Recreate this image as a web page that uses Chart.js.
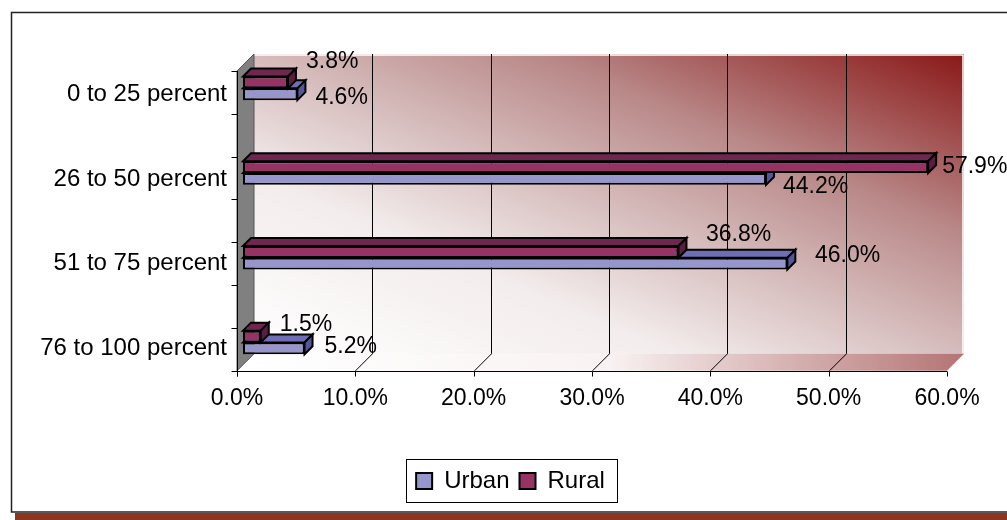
<!DOCTYPE html>
<html><head><meta charset="utf-8">
<script src="https://cdn.jsdelivr.net/npm/chart.js@4.4.1/dist/chart.umd.min.js"></script>
<style>html,body{margin:0;padding:0;background:#fff;}canvas{display:block;}</style>
</head><body>
<canvas id="c" width="1007" height="520"></canvas>
<script>
// ---- data ----
const categories = ['0 to 25 percent', '26 to 50 percent', '51 to 75 percent', '76 to 100 percent'];
const urbanValues = [4.6, 44.2, 46.0, 5.2];
const ruralValues = [3.8, 57.9, 36.8, 1.5];
const xTickLabels = ['0.0%', '10.0%', '20.0%', '30.0%', '40.0%', '50.0%', '60.0%'];
const axisMin = 0, axisMax = 60, axisStep = 10;

// ---- style ----
const FONT = "Arial, 'Liberation Sans', sans-serif";
const DEPTH = 17;      // depth of the 3D box
const BAR_Z = 6;       // bar front-face depth offset
const BAR_D = 8;       // bar depth
const LEGEND_SHIFT = 31;
const faceColors = {
  Urban: { front: '#9696cd', top: '#6e6eb4', side: '#55559a' },
  Rural: { front: '#963264', top: '#6e2850', side: '#581e40' }
};
const labelNudge = {
  Rural: [[18, -20.5], [14, 0], [27.5, -17.4], [19, -12]],
  Urban: [[18, 3], [17, 8], [27.7, -8], [20, -1.5]]
};

const box3d = {
  id: 'box3d',
  afterLayout(chart) {
    const lg = chart.legend;
    if (lg) { lg.left += LEGEND_SHIFT; lg.right += LEGEND_SHIFT; }
  },
  beforeDraw(chart) {
    const ctx = chart.ctx, ca = chart.chartArea, xs = chart.scales.x;
    ctx.save();
    ctx.fillStyle = '#fff';
    ctx.fillRect(0, 0, chart.width, chart.height);
    // outer frame + shadow band
    ctx.fillStyle = '#8e3520';
    ctx.fillRect(15, 513, chart.width - 15, 7);
    ctx.strokeStyle = '#222';
    ctx.lineWidth = 1.5;
    ctx.strokeRect(11.5, 12.5, chart.width + 20, 499.5);

    const x0 = xs.getPixelForValue(axisMin), x1 = xs.getPixelForValue(axisMax);
    const fT = ca.top + 19, fB = ca.bottom - 20;
    const D = DEPTH;
    const bL = x0 + D, bR = x1 + D, bT = fT - D, bB = fB - D;

    // back wall gradient (diagonal, from top-right dark red to bottom-left white)
    const W = bR - bL, H = bB - bT;
    const cx = (bL + bR) / 2, cy = (bT + bB) / 2;
    const k = W * H / (W * W + H * H);
    const g = ctx.createLinearGradient(cx - k * H, cy + k * W, cx + k * H, cy - k * W);
    g.addColorStop(0, '#ffffff');
    g.addColorStop(0.3, '#f3ecec');
    g.addColorStop(0.5, '#d6bcbc');
    g.addColorStop(0.7, '#b98888');
    g.addColorStop(0.86, '#a04c4c');
    g.addColorStop(1, '#8a1818');
    ctx.fillStyle = g;
    ctx.fillRect(bL, bT, W, H);
    ctx.strokeStyle = '#ffffff';
    ctx.lineWidth = 1.5;
    ctx.beginPath();
    ctx.moveTo(bL, bT + 1); ctx.lineTo(bR - 1, bT + 1); ctx.lineTo(bR - 1, bB);
    ctx.stroke();

    // floor
    const fg = ctx.createLinearGradient(bL, 0, bR, 0);
    fg.addColorStop(0, '#ffffff');
    fg.addColorStop(0.5, '#f9f2f2');
    fg.addColorStop(1, '#b47474');
    ctx.fillStyle = fg;
    ctx.beginPath();
    ctx.moveTo(x0, fB); ctx.lineTo(x1, fB); ctx.lineTo(bR, bB); ctx.lineTo(bL, bB); ctx.closePath();
    ctx.fill();

    // grid lines
    ctx.strokeStyle = '#000';
    ctx.lineWidth = 1;
    for (let v = axisMin + axisStep; v < axisMax; v += axisStep) {
      const px = Math.round(xs.getPixelForValue(v)) + 0.5;
      ctx.beginPath();
      ctx.moveTo(px, fB); ctx.lineTo(px + D, bB); ctx.lineTo(px + D, bT);
      ctx.stroke();
    }

    // left wall
    ctx.fillStyle = '#808080';
    ctx.beginPath();
    ctx.moveTo(x0, fT); ctx.lineTo(bL, bT); ctx.lineTo(bL, bB); ctx.lineTo(x0, fB); ctx.closePath();
    ctx.fill();
    ctx.strokeStyle = '#555';
    ctx.stroke();

    // axes
    ctx.strokeStyle = '#000';
    ctx.lineWidth = 1;
    const ax = Math.round(x0) + 0.5, ay = Math.round(fB) + 0.5;
    ctx.beginPath();
    ctx.moveTo(ax, fT); ctx.lineTo(ax, ay + 5);
    ctx.moveTo(ax, ay); ctx.lineTo(x1, ay);
    for (let v = axisMin; v <= axisMax; v += axisStep) {
      const px = Math.round(xs.getPixelForValue(v)) + 0.5;
      ctx.moveTo(px, ay); ctx.lineTo(px, ay + 5);
    }
    for (let i = 0; i <= 7; i++) {
      const py = Math.round(fT + i * (fB - fT) / 7) + 0.5;
      ctx.moveTo(ax - 6, py); ctx.lineTo(ax, py);
    }
    ctx.stroke();
    ctx.restore();
  },
  beforeDatasetsDraw(chart) {
    chart.ctx.save();
    chart.ctx.translate(BAR_Z, -BAR_Z);
  },
  afterDatasetDraw(chart, args) {
    const ctx = chart.ctx;
    const ds = chart.data.datasets[args.index];
    const col = faceColors[ds.label];
    const d = BAR_D;
    ctx.save();
    ctx.strokeStyle = '#000';
    ctx.lineWidth = 2;
    ctx.lineJoin = 'miter';
    args.meta.data.forEach(el => {
      const p = el.getProps(['x', 'y', 'base', 'height'], true);
      const l = Math.min(p.x, p.base), r = Math.max(p.x, p.base);
      const t = p.y - p.height / 2, b = p.y + p.height / 2;
      ctx.fillStyle = col.top;
      ctx.beginPath();
      ctx.moveTo(l, t); ctx.lineTo(r, t); ctx.lineTo(r + d, t - d); ctx.lineTo(l + d, t - d); ctx.closePath();
      ctx.fill(); ctx.stroke();
      ctx.fillStyle = col.side;
      ctx.beginPath();
      ctx.moveTo(r, t); ctx.lineTo(r + d, t - d); ctx.lineTo(r + d, b - d); ctx.lineTo(r, b); ctx.closePath();
      ctx.fill(); ctx.stroke();
    });
    ctx.restore();
  },
  afterDatasetsDraw(chart) {
    const ctx = chart.ctx;
    ctx.save();
    ctx.font = '23px ' + FONT;
    ctx.fillStyle = '#000';
    ctx.textAlign = 'left';
    ctx.textBaseline = 'middle';
    chart.data.datasets.forEach((ds, i) => {
      const meta = chart.getDatasetMeta(i);
      meta.data.forEach((el, j) => {
        const p = el.getProps(['x', 'y'], true);
        const n = labelNudge[ds.label][j];
        ctx.fillText(ds.data[j].toFixed(1) + '%', p.x + n[0], p.y + n[1]);
      });
    });
    ctx.restore();
    chart.ctx.restore();
  },
  afterDraw(chart) {
    const lg = chart.legend;
    if (!lg || !lg.legendHitBoxes || !lg.legendHitBoxes.length) return;
    const hb = lg.legendHitBoxes;
    let total = 0;
    hb.forEach(h => { total += h.width; });
    total += 10 * (hb.length - 1);
    const cx = (lg.left + lg.right) / 2;
    const w = total + 22;
    const ctx = chart.ctx;
    ctx.save();
    ctx.strokeStyle = '#000';
    ctx.lineWidth = 1;
    ctx.strokeRect(Math.round(cx - w / 2 + 1) + 0.5, Math.round(lg.top) + 0.5, Math.round(w), Math.round(lg.height) - 1);
    ctx.restore();
  }
};

new Chart(document.getElementById('c'), {
  type: 'bar',
  data: {
    labels: categories,
    datasets: [
      { label: 'Rural', data: ruralValues, backgroundColor: faceColors.Rural.front, borderColor: '#000', borderWidth: 2, borderSkipped: false, categoryPercentage: 0.2786, barPercentage: 1, clip: false },
      { label: 'Urban', data: urbanValues, backgroundColor: faceColors.Urban.front, borderColor: '#000', borderWidth: 2, borderSkipped: false, categoryPercentage: 0.2786, barPercentage: 1, clip: false }
    ]
  },
  options: {
    indexAxis: 'y',
    responsive: false,
    animation: false,
    devicePixelRatio: 1,
    layout: { padding: { top: 52, left: 12, right: 60, bottom: 17 } },
    scales: {
      x: {
        type: 'linear', min: axisMin, max: axisMax,
        ticks: { stepSize: axisStep, autoSkip: false, maxRotation: 0, padding: -22, mirror: true,
          callback: (v, i) => xTickLabels[i], font: { family: FONT, size: 23 }, color: '#000' },
        grid: { display: false, drawTicks: false },
        border: { display: false },
        afterFit(s) { s.height = 68.2; }
      },
      y: {
        type: 'category', offset: true,
        ticks: { font: { family: FONT, size: 24 }, color: '#000', padding: 10 },
        grid: { display: false, drawTicks: false },
        border: { display: false },
        afterFit(s) { s.width = 225; }
      }
    },
    plugins: {
      legend: {
        position: 'bottom', reverse: true,
        labels: { boxWidth: 16, boxHeight: 16, padding: 10, color: '#000', font: { family: FONT, size: 24 } }
      },
      tooltip: { enabled: false },
      title: { display: false }
    }
  },
  plugins: [box3d]
});
</script>
</body></html>
